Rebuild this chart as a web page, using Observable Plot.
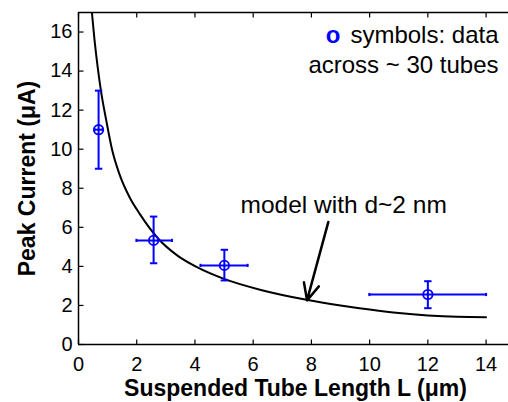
<!DOCTYPE html>
<html>
<head>
<meta charset="utf-8">
<script src="https://cdn.jsdelivr.net/npm/d3@7"></script>
<script src="https://cdn.jsdelivr.net/npm/@observablehq/plot@0.6"></script>
<style>
  html, body { margin: 0; padding: 0; background: #fff; }
  #chart { width: 508px; height: 402px; }
</style>
</head>
<body>
<div id="chart"></div>
<script>
// ---- data ----
const xTicks = [0, 2, 4, 6, 8, 10, 12, 14];
const yTicks = [0, 2, 4, 6, 8, 10, 12, 14, 16];

// measured points (tube length L in µm, peak current in µA)
const pointX = [0.69, 2.58, 5.01, 12.0];
const pointY = [11.0, 5.33, 4.05, 2.56];
const yLow   = [9.0, 4.16, 3.28, 1.86];
const yHigh  = [13.0, 6.55, 4.85, 3.24];
const xLow   = [0.55, 1.99, 4.19, 9.99];
const xHigh  = [0.83, 3.21, 5.81, 14.0];

// model curve with d ~ 2 nm
const curveX = [0.46, 0.55, 0.65, 0.77, 0.95, 1.15, 1.4, 1.75, 2.12, 2.75, 3.4, 4.07, 5.0, 6.3, 7.83, 9.0, 10.0, 11.0, 12.0, 13.0, 14.0];
const curveY = [17.0, 15.6, 14.3, 13.0, 11.5, 10.0, 8.75, 7.55, 6.65, 5.4, 4.55, 3.96, 3.36, 2.78, 2.29, 2.0, 1.79, 1.61, 1.49, 1.42, 1.40];

// annotation arrow (start -> tip)
const arrowFrom = [8.58, 6.27];
const arrowTo   = [7.85, 2.26];

const legendLines = ["symbols: data", "across ~ 30 tubes"];
const legendMarker = "o";
const modelLabel = "model with d~2 nm";
const xLabel = "Suspended Tube Length L (\u03bcm)";
const yLabel = "Peak Current (\u03bcA)";

// ---- build tables ----
const points = pointX.map((x, i) => ({x, y: pointY[i], ylo: yLow[i], yhi: yHigh[i], xlo: xLow[i], xhi: xHigh[i]}));
const curve = curveX.map((x, i) => ({x, y: curveY[i]}));

// custom glyphs
const capH = {draw(ctx) { ctx.moveTo(-3.7, 0); ctx.lineTo(3.7, 0); }};
const capV = {draw(ctx) { ctx.moveTo(0, -1.6); ctx.lineTo(0, 1.6); }};
const tickUp = {draw(ctx) { ctx.moveTo(0, 0); ctx.lineTo(0, -5); }};
const tickDown = {draw(ctx) { ctx.moveTo(0, 0); ctx.lineTo(0, 5); }};
const tickRight = {draw(ctx) { ctx.moveTo(0, 0); ctx.lineTo(5, 0); }};

const blue = "#0000ff";
const font = "'Liberation Sans', Arial, Helvetica, sans-serif";

const chart = Plot.plot({
  width: 508,
  height: 402,
  marginLeft: 78,
  marginRight: 0,
  marginTop: 12,
  marginBottom: 58,
  style: {fontFamily: font, fontSize: "20px", color: "#000", background: "#fff", overflow: "visible"},
  x: {domain: [0, 14.77], label: null},
  y: {domain: [0, 17], label: null},
  marks: [
    // axis lines
    Plot.ruleX([0], {stroke: "#000", strokeWidth: 1.5}),
    Plot.ruleY([0, 17], {stroke: "#000", strokeWidth: 1.5}),
    // inward ticks
    Plot.dot(xTicks, {x: d => d, y: () => 0, symbol: tickUp, stroke: "#000", strokeWidth: 1.2, r: 5}),
    Plot.dot(xTicks, {x: d => d, y: () => 17, symbol: tickDown, stroke: "#000", strokeWidth: 1.2, r: 5}),
    Plot.dot(yTicks, {x: () => 0, y: d => d, symbol: tickRight, stroke: "#000", strokeWidth: 1.2, r: 5}),
    // tick labels
    Plot.axisX({ticks: xTicks, tickSize: 0, tickPadding: 12, fontSize: 20, tickFormat: d => String(d)}),
    Plot.axisY({ticks: yTicks, tickSize: 0, tickPadding: 6, fontSize: 20, tickFormat: d => String(d)}),
    // model curve
    Plot.line(curve, {x: "x", y: "y", curve: "monotone-x", stroke: "#000", strokeWidth: 2, clip: true}),
    // error bars
    Plot.ruleX(points, {x: "x", y1: "ylo", y2: "yhi", stroke: blue, strokeWidth: 2}),
    Plot.ruleY(points, {y: "y", x1: "xlo", x2: "xhi", stroke: blue, strokeWidth: 2}),
    Plot.dot(points, {x: "x", y: "ylo", symbol: capH, stroke: blue, strokeWidth: 2, r: 4}),
    Plot.dot(points, {x: "x", y: "yhi", symbol: capH, stroke: blue, strokeWidth: 2, r: 4}),
    Plot.dot(points, {x: "xlo", y: "y", symbol: capV, stroke: blue, strokeWidth: 2, r: 4}),
    Plot.dot(points, {x: "xhi", y: "y", symbol: capV, stroke: blue, strokeWidth: 2, r: 4}),
    Plot.dot(points, {x: "x", y: "y", r: 4.7, stroke: blue, strokeWidth: 1.8, fill: "none"}),
    // arrow
    Plot.arrow([0], {x1: () => arrowFrom[0], y1: () => arrowFrom[1], x2: () => arrowTo[0], y2: () => arrowTo[1],
      stroke: "#000", strokeWidth: 2.5, headLength: 11, headAngle: 50}),
    // annotation text
    Plot.text([modelLabel], {text: d => d, frameAnchor: "top-left", dx: 162, dy: 200, textAnchor: "start", lineAnchor: "bottom", fontSize: 24.5, fill: "#000"}),
    Plot.text([legendLines[0]], {text: d => d, frameAnchor: "top-right", dx: -10, dy: 30, textAnchor: "end", lineAnchor: "bottom", fontSize: 24, fill: "#000"}),
    Plot.text([legendLines[1]], {text: d => d, frameAnchor: "top-right", dx: -10, dy: 60, textAnchor: "end", lineAnchor: "bottom", fontSize: 24, fill: "#000"}),
    Plot.text([legendMarker], {text: d => d, frameAnchor: "top-right", dx: -168, dy: 30, textAnchor: "end", lineAnchor: "bottom", fontSize: 24, fontWeight: "bold", fill: blue}),
    // axis titles
    Plot.text([xLabel], {text: d => d, frameAnchor: "bottom", dx: 2, dy: 51, textAnchor: "middle", lineAnchor: "bottom", fontSize: 23, fontWeight: "bold", fill: "#000"}),
    Plot.text([yLabel], {text: d => d, frameAnchor: "left", dx: -44, rotate: -90, textAnchor: "middle", lineAnchor: "bottom", fontSize: 23, fontWeight: "bold", fill: "#000"})
  ]
});
document.getElementById("chart").appendChild(chart);
</script>
</body>
</html>
